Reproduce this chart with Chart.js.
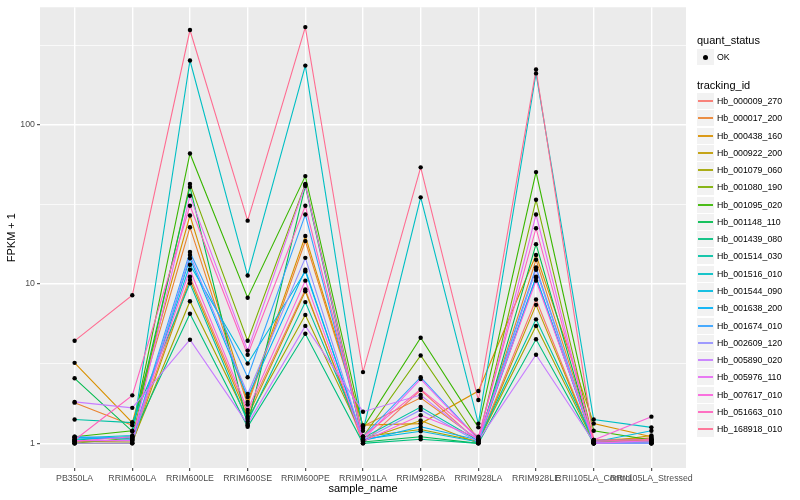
<!DOCTYPE html>
<html>
<head>
<meta charset="utf-8">
<script src="https://cdn.jsdelivr.net/npm/chart.js@4"></script>
<style>
    html, body { margin: 0; padding: 0; background: #fff; }
    #wrap { position: relative; width: 800px; height: 500px; font-family: "Liberation Sans", Arial, sans-serif; }
    #chart { position: absolute; left: 0; top: 0; }
    .ttl { position: absolute; font-size: 11px; color: #000; white-space: nowrap; line-height: 12px; }
    .key { position: absolute; width: 17px; height: 16px; background: #f2f2f2; }
    .key i { position: absolute; left: 1px; right: 1px; top: 7px; height: 2px; opacity: 0.9; }
    .key b { position: absolute; left: 6px; top: 6px; width: 5px; height: 5px; border-radius: 50%; background: #000; }
    .lbl { position: absolute; font-size: 8.8px; color: #000; white-space: nowrap; line-height: 10px; }
</style>
</head>
<body>
<div id="wrap">
    <canvas id="chart" width="800" height="500"></canvas>
    <div id="legend"></div>
</div>
<script>
// sample order on the x axis
const samples = [
    'PB350LA', 'RRIM600LA', 'RRIM600LE', 'RRIM600SE', 'RRIM600PE', 'RRIM901LA',
    'RRIM928BA', 'RRIM928LA', 'RRIM928LE', 'RRII105LA_Control', 'RRII105LA_Stressed',
];

const trackingIds = [
    'Hb_000009_270', 'Hb_000017_200', 'Hb_000438_160', 'Hb_000922_200', 'Hb_001079_060',
    'Hb_001080_190', 'Hb_001095_020', 'Hb_001148_110', 'Hb_001439_080', 'Hb_001514_030',
    'Hb_001516_010', 'Hb_001544_090', 'Hb_001638_200', 'Hb_001674_010', 'Hb_002609_120',
    'Hb_005890_020', 'Hb_005976_110', 'Hb_007617_010', 'Hb_051663_010', 'Hb_168918_010',
];

// ggplot default hue palette, 20 levels
const trackColors = [
    '#F8766D', '#EA8331', '#D89000', '#C09B00', '#A3A500',
    '#7CAE00', '#39B600', '#00BB4E', '#00BF7D', '#00C1A3',
    '#00BFC4', '#00BAE0', '#00B0F6', '#35A2FF', '#9590FF',
    '#C77CFF', '#E76BF3', '#FA62DB', '#FF62BC', '#FF6C91',
];

// FPKM + 1, one row per tracking id, columns follow `samples`
const fpkm = [
    [1.02, 1.05, 11.1, 1.55, 9.25, 1.00, 2.16, 1.02, 8.0, 1.00, 1.08],   // 000009_270
    [1.80, 1.30, 22.7, 1.75, 18.6, 1.28, 1.93, 1.05, 14.2, 1.05, 1.08],  // 000017_200
    [3.20, 1.35, 26.9, 1.82, 20.0, 1.30, 1.33, 2.13, 15.2, 1.33, 1.10],  // 000438_160
    [1.00, 1.00, 10.6, 1.47, 9.0, 1.05, 1.39, 1.00, 7.4, 1.00, 1.12],    // 000922_200
    [1.03, 1.02, 7.8, 1.42, 6.4, 1.10, 1.22, 1.03, 5.46, 1.02, 1.05],    // 001079_060
    [1.00, 1.08, 42.5, 4.4, 42.5, 1.10, 3.56, 1.05, 33.8, 1.03, 1.03],   // 001080_190
    [1.10, 1.20, 66.0, 8.2, 47.6, 1.25, 4.6, 1.26, 50.4, 1.20, 1.05],    // 001095_020
    [2.56, 1.19, 40.7, 1.30, 41.3, 1.02, 1.10, 1.00, 17.8, 1.02, 1.00],  // 001148_110
    [1.05, 1.10, 6.5, 1.27, 4.87, 1.00, 1.06, 1.00, 4.5, 1.00, 1.02],    // 001439_080
    [1.41, 1.35, 10.1, 1.37, 7.7, 1.08, 1.69, 1.04, 6.0, 1.04, 1.06],    // 001514_030
    [1.08, 1.12, 253, 11.3, 235, 1.20, 35.0, 1.33, 210, 1.41, 1.26],     // 001516_010
    [1.06, 1.10, 13.2, 3.17, 12.0, 1.06, 1.19, 1.02, 11.0, 1.02, 1.20],  // 001544_090
    [1.09, 1.06, 14.5, 1.95, 12.3, 1.04, 1.27, 1.05, 11.1, 1.00, 1.00],  // 001638_200
    [1.10, 1.08, 15.9, 2.60, 27.3, 1.10, 2.60, 1.06, 12.7, 1.01, 1.00],  // 001674_010
    [1.00, 1.00, 15.2, 2.04, 14.6, 1.05, 1.62, 1.02, 12.3, 1.00, 1.00],  // 002609_120
    [1.82, 1.67, 4.47, 1.32, 5.46, 1.58, 2.01, 1.04, 3.6, 1.02, 1.02],   // 005890_020
    [1.04, 1.04, 35.8, 3.82, 42.0, 1.05, 2.53, 1.05, 27.3, 1.00, 1.04],  // 005976_110
    [1.03, 1.10, 12.3, 1.62, 10.5, 1.03, 1.50, 1.08, 10.5, 1.05, 1.47],  // 007617_010
    [1.05, 2.00, 31.0, 3.60, 31.0, 1.10, 2.19, 1.10, 22.4, 1.03, 1.06],  // 051663_010
    [4.40, 8.50, 393, 25.0, 410, 2.80, 54.0, 1.87, 222, 1.05, 1.05],     // 168918_010
];

const yBreaks = [1, 10, 100];
const yMinorBreaks = [Math.sqrt(10), Math.sqrt(1000), Math.sqrt(100000)];
const yLimits = [0.741, 546];

Chart.defaults.font.family = '"Liberation Sans", Arial, sans-serif';

const panelBg = {
    id: 'panelBg',
    beforeDraw(chart) {
        const { ctx, chartArea: a } = chart;
        ctx.save();
        ctx.fillStyle = '#EBEBEB';
        ctx.fillRect(a.left, a.top, a.right - a.left, a.bottom - a.top);
        ctx.restore();
    },
};

const isMajor = (v) => yBreaks.some((b) => Math.abs(b - v) < 1e-6);

const lineSets = fpkm.map((row, k) => ({
    label: trackingIds[k],
    data: row.map((v, i) => ({ x: i, y: v })),
    borderColor: trackColors[k],
    borderWidth: 1.1,
    pointRadius: 0,
    fill: false,
    order: trackingIds.length - k,
}));

const pointSet = {
    label: 'OK',
    data: fpkm.flatMap((row) => row.map((v, i) => ({ x: i, y: v }))),
    showLine: false,
    pointRadius: 2.2,
    pointBackgroundColor: '#000',
    pointBorderWidth: 0,
    order: -1,
};

new Chart(document.getElementById('chart').getContext('2d'), {
    type: 'line',
    data: { datasets: [...lineSets, pointSet] },
    options: {
        responsive: false,
        animation: false,
        layout: { padding: { top: 5, right: 114, left: 0, bottom: 0 } },
        plugins: { legend: { display: false }, tooltip: { enabled: false } },
        scales: {
            x: {
                type: 'linear',
                min: -0.6,
                max: samples.length - 1 + 0.6,
                afterBuildTicks: (s) => { s.ticks = samples.map((_, i) => ({ value: i })); },
                afterFit: (s) => { s.height = 32; },
                ticks: {
                    callback: (v) => samples[v],
                    autoSkip: false,
                    maxRotation: 0,
                    minRotation: 0,
                    color: '#4D4D4D',
                    font: { size: 8.8 },
                    padding: 2,
                },
                grid: { color: '#fff', lineWidth: 1.4, tickLength: 3, tickColor: '#333', tickWidth: 1 },
                border: { display: false },
                title: { display: true, text: 'sample_name', color: '#000', font: { size: 11 }, padding: { top: 2, bottom: 4 } },
            },
            y: {
                type: 'logarithmic',
                min: yLimits[0],
                max: yLimits[1],
                afterBuildTicks: (s) => {
                    s.ticks = [...yBreaks, ...yMinorBreaks].sort((a, b) => a - b).map((v) => ({ value: v }));
                },
                afterFit: (s) => { s.width = 40; },
                ticks: {
                    callback: (v) => (isMajor(v) ? String(Math.round(v)) : ''),
                    color: '#4D4D4D',
                    font: { size: 8.8 },
                    padding: 2,
                },
                grid: {
                    color: '#fff',
                    lineWidth: (c) => (isMajor(c.tick.value) ? 1.4 : 0.7),
                    tickLength: 3,
                    tickColor: (c) => (isMajor(c.tick.value) ? '#333' : 'rgba(0,0,0,0)'),
                    tickWidth: 1,
                },
                border: { display: false },
                title: { display: true, text: 'FPKM + 1', color: '#000', font: { size: 11 }, padding: { top: 5, bottom: 2 } },
            },
        },
    },
    plugins: [panelBg],
});

// legend, ggplot style
const legend = document.getElementById('legend');
function addEl(cls, left, top, html) {
    const el = document.createElement('div');
    el.className = cls;
    el.style.left = left + 'px';
    el.style.top = Math.round(top) + 'px';
    el.innerHTML = html;
    legend.appendChild(el);
    return el;
}
addEl('ttl', 697, 34, 'quant_status');
addEl('key', 697, 49, '<b></b>');
addEl('lbl', 717, 52, 'OK');
addEl('ttl', 697, 79, 'tracking_id');
trackingIds.forEach((id, k) => {
    const cy = 101 + k * 17.27;
    addEl('key', 697, cy - 8, `<i style="background:${trackColors[k]}"></i>`);
    addEl('lbl', 717, cy - 5, id);
});
</script>
</body>
</html>
